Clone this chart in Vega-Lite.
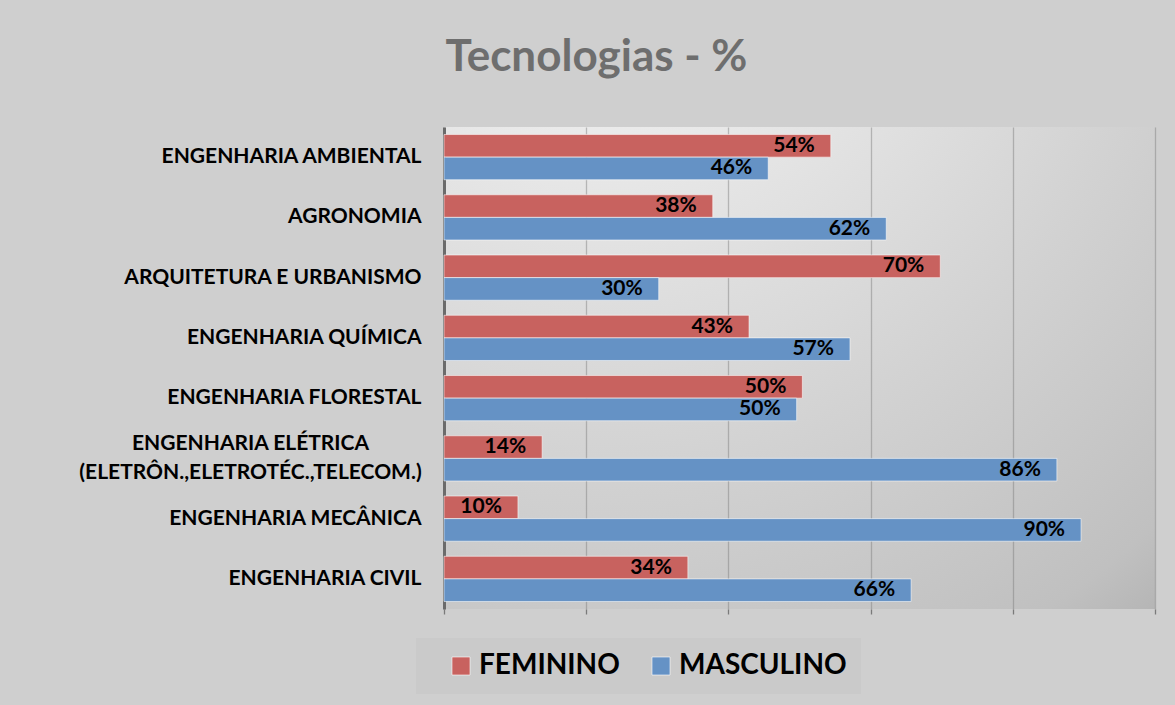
{
  "$schema": "https://vega.github.io/schema/vega-lite/v6.json",
  "width": 711,
  "height": 482,
  "autosize": {"type": "none"},
  "padding": {"left": 444, "top": 127, "right": 20, "bottom": 96},
  "background": "#cfcfcf",
  "title": {
    "text": "Tecnologias - %",
    "font": "Lato",
    "fontSize": 44,
    "fontWeight": "bold",
    "color": "#6e6e6e",
    "anchor": "middle",
    "frame": "group",
    "baseline": "alphabetic",
    "offset": 12,
    "dx": -203
  },
  "config": {
    "view": {
      "stroke": null,
      "fill": {
        "gradient": "radial",
        "x1": 0.22, "y1": -0.14, "r1": 0,
        "x2": 0.22, "y2": -0.14, "r2": 1.4,
        "stops": [
          {"offset": 0, "color": "#f3f3f3"},
          {"offset": 0.19, "color": "#ececec"},
          {"offset": 0.56, "color": "#d2d2d2"},
          {"offset": 0.83, "color": "#c0c0c0"},
          {"offset": 1, "color": "#a4a4a4"}
        ]
      }
    },
    "font": "Lato"
  },
  "data": {
    "values": [
      {"categoria": "ENGENHARIA AMBIENTAL\u00a0", "genero": "FEMININO", "valor": 0.544},
      {"categoria": "ENGENHARIA AMBIENTAL\u00a0", "genero": "MASCULINO", "valor": 0.456},
      {"categoria": "AGRONOMIA", "genero": "FEMININO", "valor": 0.378},
      {"categoria": "AGRONOMIA", "genero": "MASCULINO", "valor": 0.622},
      {"categoria": "ARQUITETURA E URBANISMO", "genero": "FEMININO", "valor": 0.698},
      {"categoria": "ARQUITETURA E URBANISMO", "genero": "MASCULINO", "valor": 0.302},
      {"categoria": "ENGENHARIA QUÍMICA", "genero": "FEMININO", "valor": 0.429},
      {"categoria": "ENGENHARIA QUÍMICA", "genero": "MASCULINO", "valor": 0.571},
      {"categoria": "ENGENHARIA FLORESTAL", "genero": "FEMININO", "valor": 0.504},
      {"categoria": "ENGENHARIA FLORESTAL", "genero": "MASCULINO", "valor": 0.496},
      {"categoria": "ENGENHARIA ELÉTRICA|(ELETRÔN.,ELETROTÉC.,TELECOM.)", "genero": "FEMININO", "valor": 0.138},
      {"categoria": "ENGENHARIA ELÉTRICA|(ELETRÔN.,ELETROTÉC.,TELECOM.)", "genero": "MASCULINO", "valor": 0.862},
      {"categoria": "ENGENHARIA MECÂNICA", "genero": "FEMININO", "valor": 0.104},
      {"categoria": "ENGENHARIA MECÂNICA", "genero": "MASCULINO", "valor": 0.896},
      {"categoria": "ENGENHARIA CIVIL", "genero": "FEMININO", "valor": 0.343},
      {"categoria": "ENGENHARIA CIVIL", "genero": "MASCULINO", "valor": 0.657}
    ]
  },
  "encoding": {
    "y": {
      "field": "categoria",
      "type": "nominal",
      "sort": null,
      "title": null,
      "scale": {"paddingInner": 0.25, "paddingOuter": 0.125},
      "axis": {
        "ticks": false,
        "domainColor": "#6b6b6b",
        "domainWidth": 3,
        "labelFont": "Lato",
        "labelFontSize": 21,
        "labelFontWeight": "bold",
        "labelColor": "#000000",
        "labelLimit": 500,
        "labelLineHeight": 29,
        "labelExpr": "split(datum.label, '|')",
        "labelAlign": {"condition": {"test": "indexof(datum.label, '|') >= 0", "value": "center"}, "value": "right"},
        "labelPadding": {"condition": {"test": "indexof(datum.label, '|') >= 0", "value": 194}, "value": 23},
        "labelOffset": {"condition": {"test": "indexof(datum.label, '|') >= 0", "value": -14}, "value": 0}
      }
    },
    "yOffset": {"field": "genero", "type": "nominal", "sort": ["FEMININO", "MASCULINO"]},
    "x": {
      "field": "valor",
      "type": "quantitative",
      "title": null,
      "scale": {"domain": [0, 1], "nice": false},
      "axis": {
        "values": [0, 0.2, 0.4, 0.6, 0.8, 1],
        "labels": false,
        "domain": false,
        "grid": true,
        "gridColor": "#7a7a7a",
        "gridOpacity": 0.45,
        "gridWidth": 1.3,
        "ticks": true,
        "tickSize": 5,
        "tickColor": "#7a7a7a",
        "tickWidth": 1.3
      }
    }
  },
  "layer": [
    {
      "mark": {"type": "bar", "stroke": "#ffffff", "strokeOpacity": 0.55, "strokeWidth": 1},
      "encoding": {
        "color": {
          "field": "genero",
          "type": "nominal",
          "scale": {"domain": ["FEMININO", "MASCULINO"], "range": ["#c8625f", "#6592c5"]},
          "legend": {
            "title": null,
            "orient": "none",
            "legendX": -28,
            "legendY": 511,
            "direction": "horizontal",
            "fillColor": "#cacaca",
            "padding": 14,
            "symbolType": "square",
            "symbolSize": 324,
            "symbolOffset": 17,
            "symbolStrokeColor": "#ffffff",
            "symbolStrokeWidth": 0.6,
            "labelFont": "Lato",
            "labelFontSize": 28,
            "labelFontWeight": "bold",
            "labelColor": "#000000",
            "labelOffset": 4,
            "labelLimit": 400,
            "columnPadding": 10
          }
        }
      }
    },
    {
      "mark": {"type": "text", "align": "right", "baseline": "middle", "dx": -16, "font": "Lato", "fontSize": 21, "fontWeight": "bold", "color": "#000000"},
      "encoding": {
        "text": {"field": "valor", "type": "quantitative", "format": ".0%"}
      }
    }
  ]
}
